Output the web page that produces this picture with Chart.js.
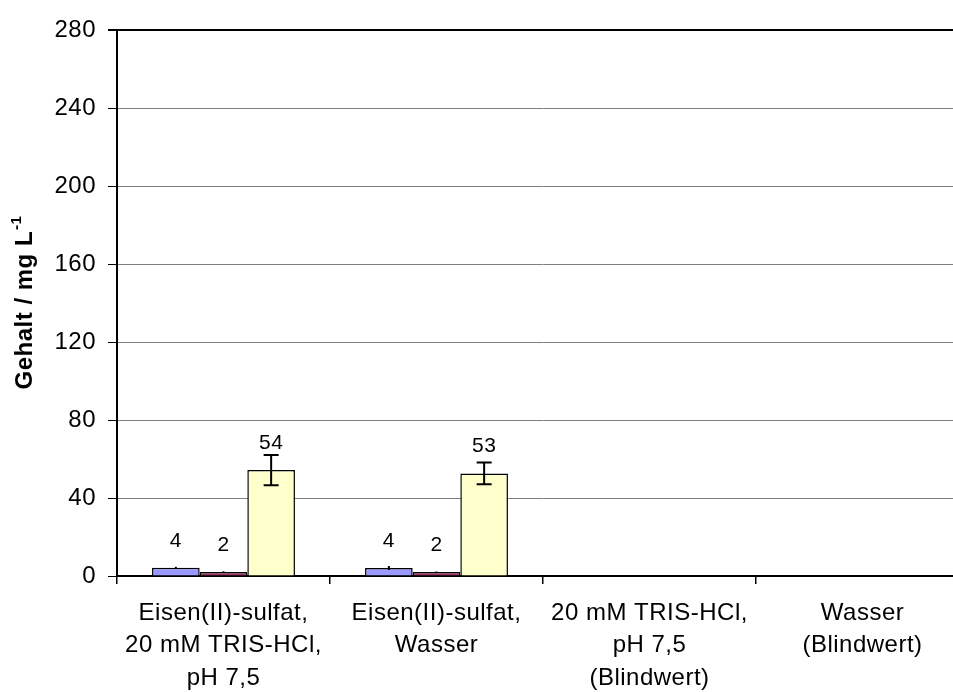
<!DOCTYPE html>
<html lang="de">
<head>
<meta charset="UTF-8">
<title>Gehalt</title>
<script src="https://cdn.jsdelivr.net/npm/chart.js@4.4.1/dist/chart.umd.min.js"></script>
<style>
  html, body { margin: 0; padding: 0; background: #fff; overflow: hidden; }
  #wrap { width: 1000px; height: 692px; }
</style>
</head>
<body>
<div id="wrap"><canvas id="myChart" width="1000" height="692"></canvas></div>
<script>
// categories (multi-line labels)
const categories = [
    ['Eisen(II)-sulfat,', '20 mM TRIS-HCl,', 'pH 7,5'],
    ['Eisen(II)-sulfat,', 'Wasser'],
    ['20 mM TRIS-HCl,', 'pH 7,5', '(Blindwert)'],
    ['Wasser', '(Blindwert)']
];
// three series with their error values
const serieBlau = [4.2, 4.1, null, null];
const fehlerBlau = [0.5, 1.0, null, null];
const serieRot = [2.1, 2.0, null, null];
const fehlerRot = [0.3, 0.3, null, null];
const serieGelb = [54.3, 52.6, null, null];
const fehlerGelb = [7.7, 5.6, null, null];
// y axis
const yMin = 0, yMax = 280, yStep = 40;

const schrift = 'Liberation Sans, Arial, sans-serif';

// canvas letter spacing gets reset on resize, so set it again before each pass
const spacing = {
    id: 'spacing',
    beforeUpdate(chart) { chart.ctx.letterSpacing = '0.5px'; },
    beforeDraw(chart) { chart.ctx.letterSpacing = '0.5px'; }
};

// error bars + value labels
const fehlerBalken = {
    id: 'fehlerBalken',
    afterDatasetsDraw(chart) {
        const ctx = chart.ctx;
        const y = chart.scales.y;
        ctx.save();
        chart.data.datasets.forEach((ds, i) => {
            const meta = chart.getDatasetMeta(i);
            meta.data.forEach((bar, j) => {
                const v = ds.data[j];
                if (v === null) return;
                const e = ds.fehler[j] || 0;
                const top = y.getPixelForValue(v + e);
                const bot = y.getPixelForValue(v - e);
                ctx.strokeStyle = '#000';
                ctx.lineWidth = 2;
                ctx.beginPath();
                ctx.moveTo(bar.x, top); ctx.lineTo(bar.x, bot);
                if (e > 1) {
                    ctx.moveTo(bar.x - 7.5, top); ctx.lineTo(bar.x + 7.5, top);
                    ctx.moveTo(bar.x - 7.5, bot); ctx.lineTo(bar.x + 7.5, bot);
                }
                ctx.stroke();
                ctx.fillStyle = '#000';
                ctx.font = '21px ' + schrift;
                ctx.textAlign = 'center';
                ctx.textBaseline = 'middle';
                ctx.fillText(String(Math.round(v)), bar.x, bar.y - 27);
            });
        });
        ctx.restore();
    }
};

// rotated y title with superscript
const yTitel = {
    id: 'yTitel',
    afterDraw(chart) {
        const ctx = chart.ctx;
        const a = chart.chartArea;
        ctx.save();
        ctx.fillStyle = '#000';
        ctx.textBaseline = 'middle';
        ctx.textAlign = 'left';
        const haupt = 'Gehalt / mg L';
        const hoch = '-1';
        ctx.font = 'bold 24px ' + schrift;
        const w1 = ctx.measureText(haupt).width;
        ctx.font = 'bold 15px ' + schrift;
        const w2 = ctx.measureText(hoch).width;
        ctx.translate(25, (a.top + a.bottom) / 2);
        ctx.rotate(-Math.PI / 2);
        const start = -(w1 + w2) / 2;
        ctx.font = 'bold 24px ' + schrift;
        ctx.fillText(haupt, start, 0);
        ctx.font = 'bold 15px ' + schrift;
        ctx.fillText(hoch, start + w1 + 1, -8);
        ctx.restore();
    }
};

const ctx = document.getElementById('myChart').getContext('2d');
new Chart(ctx, {
    type: 'bar',
    data: {
        labels: categories,
        datasets: [
            { data: serieBlau, fehler: fehlerBlau, backgroundColor: '#9999FF' },
            { data: serieRot, fehler: fehlerRot, backgroundColor: '#993366' },
            { data: serieGelb, fehler: fehlerGelb, backgroundColor: '#FFFFCC' }
        ].map(d => Object.assign(d, { borderColor: '#000', borderWidth: 1.5, borderSkipped: 'bottom' }))
    },
    options: {
        responsive: false,
        animation: false,
        devicePixelRatio: 1,
        categoryPercentage: 0.671,
        barPercentage: 1.0,
        layout: { padding: { top: 30, right: 31, left: 0, bottom: 0 } },
        plugins: {
            legend: { display: false },
            tooltip: { enabled: false }
        },
        scales: {
            x: {
                grid: { drawOnChartArea: false, offset: true, tickLength: 8, tickColor: '#000', lineWidth: 1.5 },
                border: { color: '#000', width: 2 },
                ticks: { color: '#000', font: { family: schrift, size: 24, lineHeight: 1.35 }, padding: 13, maxRotation: 0, autoSkip: false },
                afterFit(scale) { scale.height = 692 - 576; }
            },
            y: {
                min: yMin, max: yMax,
                grid: {
                    color: c => c.tick && c.tick.value === yMax ? '#000' : '#808080',
                    lineWidth: c => c.tick && c.tick.value === yMax ? 2 : 1,
                    tickLength: 9, tickColor: '#000'
                },
                border: { color: '#000', width: 2 },
                ticks: { stepSize: yStep, color: '#000', font: { family: schrift, size: 24 }, padding: 12 },
                afterFit(scale) { scale.width = 117; }
            }
        }
    },
    plugins: [spacing, fehlerBalken, yTitel]
});
</script>
</body>
</html>
